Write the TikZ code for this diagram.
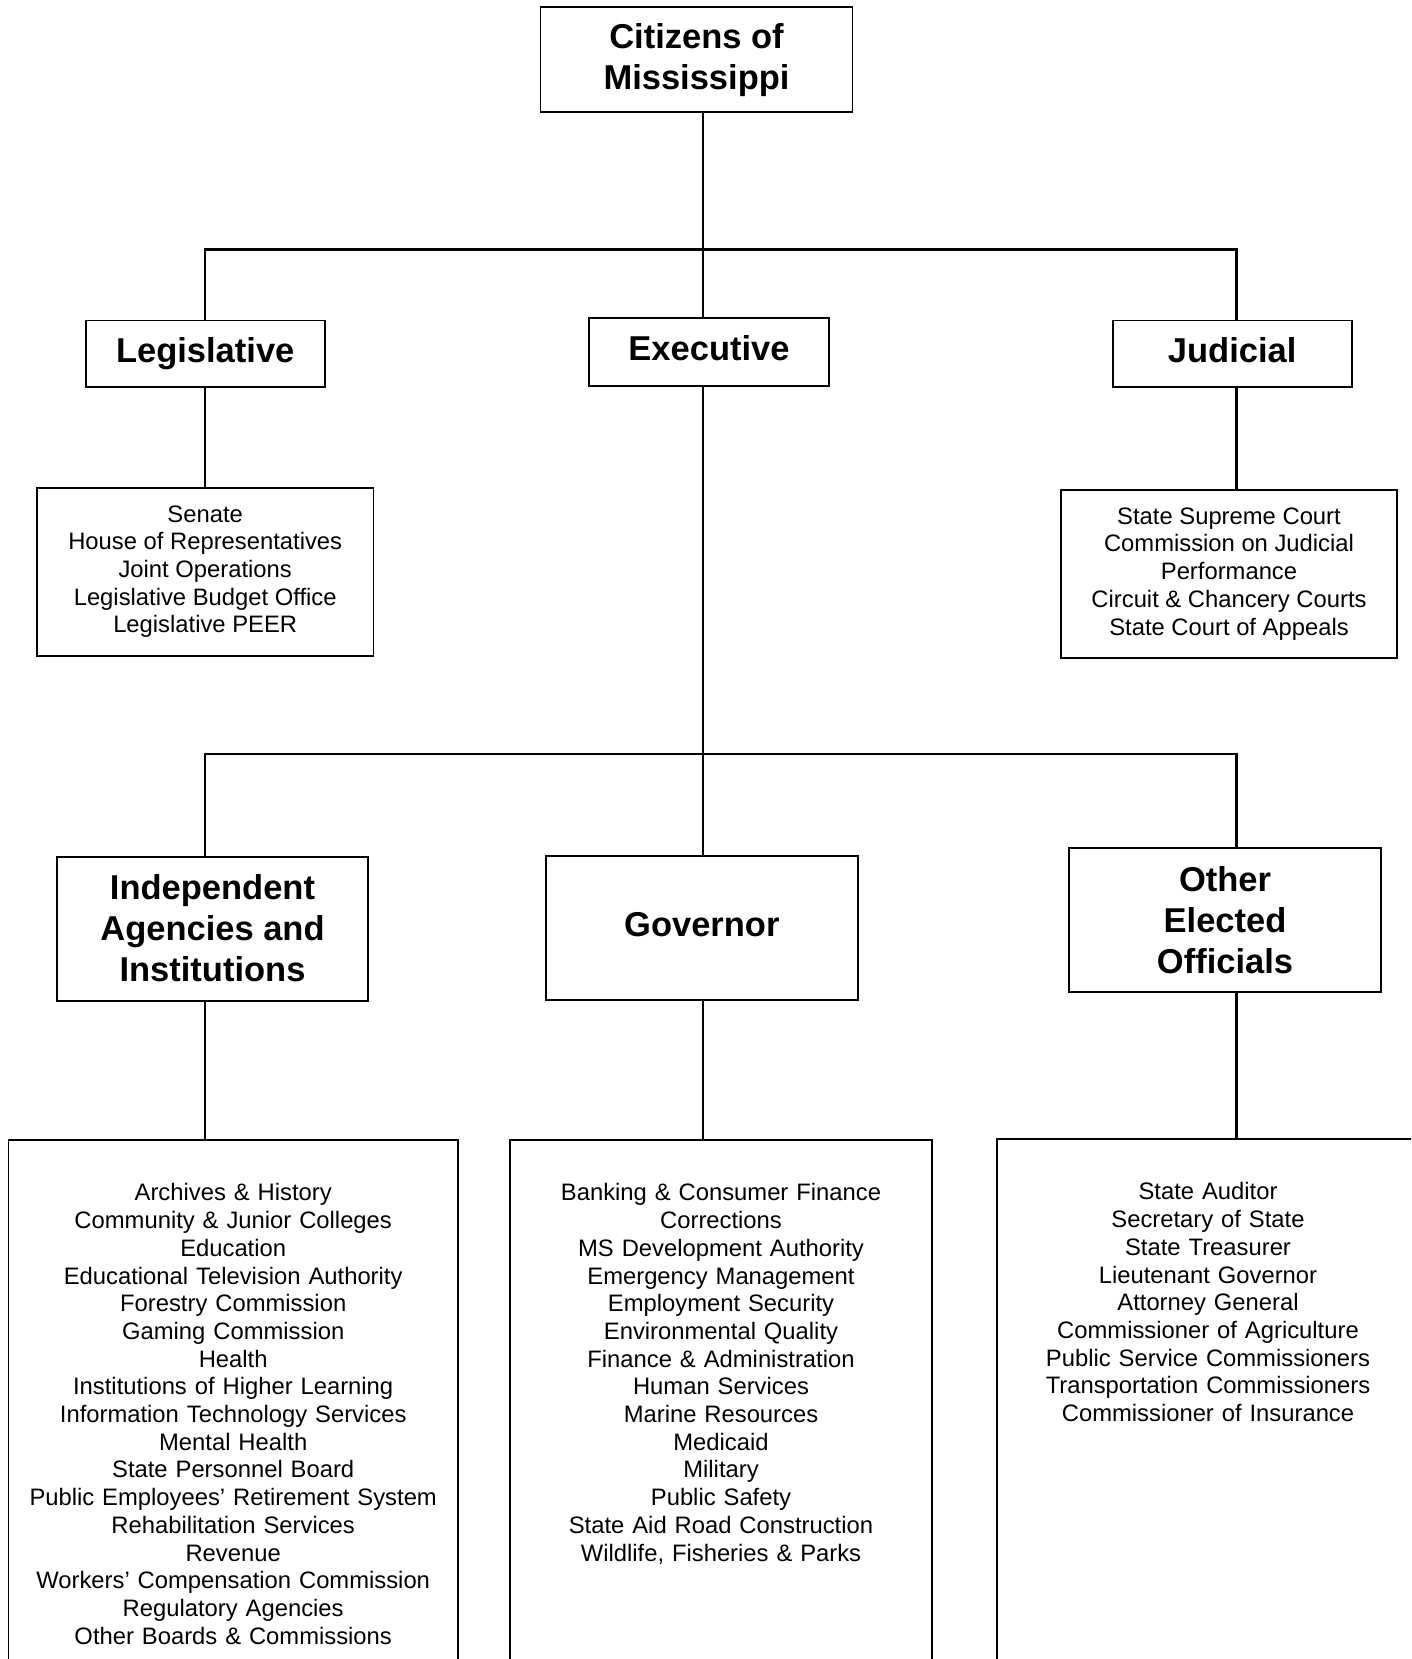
\documentclass[tikz,border=0pt]{standalone}
\usepackage{fontspec}
\setmainfont{Liberation Sans}
\usepackage{tikz}

\begin{document}
\begin{tikzpicture}[x=1pt, y=-1pt, line width=2.4pt,
	branch node/.style={rectangle,draw,line width=1.8pt,inner sep=0pt,align=center,
		font=\fontsize{34.5}{41}\selectfont\bfseries},
	single node/.style={branch node,text height=25pt,text depth=7.5pt},
	list node/.style={rectangle,draw,line width=1.8pt,inner sep=0pt,align=center,
		font=\fontsize{23.8}{27.7}\selectfont},
	open node/.style={list node,anchor=north,inner xsep=0pt,inner ysep=43pt,
		text height=18pt,text depth=700pt}]
	
	\path[use as bounding box,clip] (0,0) rectangle (1411,1659);
	
	\node[branch node,minimum width=312pt,minimum height=104.6pt] (cit) at (696.5,59.7) {Citizens of\\Mississippi};
	
	\node[single node,minimum width=239pt,minimum height=66.5pt] (leg) at (205.2,353.7) {Legislative};
	\node[single node,minimum width=240pt,minimum height=68pt] (exe) at (709,352) {Executive};
	\node[single node,minimum width=239pt,minimum height=66.5pt] (jud) at (1232.2,353.7) {Judicial};
	
	\node[list node,minimum width=336.4pt,minimum height=168pt] (legsub) at (205.2,571.7)
	{Senate\\House of Representatives\\Joint Operations\\Legislative Budget Office\\Legislative PEER};
	\node[list node,minimum width=336pt,minimum height=168pt] (judsub) at (1229,573.8)
	{State Supreme Court\\Commission on Judicial\\Performance\\Circuit \& Chancery Courts\\State Court of Appeals};
	
	\node[branch node,minimum width=311pt,minimum height=144pt] (ind) at (212.5,928.6) {Independent\\Agencies and\\Institutions};
	\node[single node,minimum width=312pt,minimum height=144pt] (gov) at (701.8,927.6) {Governor};
	\node[branch node,minimum width=312pt,minimum height=144pt] (oth) at (1225,920) {Other\\Elected\\Officials};
	
	\node[open node,text width=449.5pt] (indsub) at (233.2,1139)
	{Archives \& History\\Community \& Junior Colleges\\Education\\Educational Television Authority\\
	Forestry Commission\\Gaming Commission\\Health\\Institutions of Higher Learning\\
	Information Technology Services\\Mental Health\\State Personnel Board\\
	Public Employees’ Retirement System\\Rehabilitation Services\\Revenue\\
	Workers’ Compensation Commission\\Regulatory Agencies\\Other Boards \& Commissions};
	\node[open node,text width=422pt] (govsub) at (721,1139)
	{Banking \& Consumer Finance\\Corrections\\MS Development Authority\\Emergency Management\\
	Employment Security\\Environmental Quality\\Finance \& Administration\\Human Services\\
	Marine Resources\\Medicaid\\Military\\Public Safety\\State Aid Road Construction\\
	Wildlife, Fisheries \& Parks};
	\node[open node,text width=422pt] (othsub) at (1208,1138)
	{State Auditor\\Secretary of State\\State Treasurer\\Lieutenant Governor\\Attorney General\\
	Commissioner of Agriculture\\Public Service Commissioners\\Transportation Commissioners\\
	Commissioner of Insurance};
	
	% bus lines
	\coordinate (top) at (703,249.6);
	\coordinate (topl) at (205,249.6);
	\coordinate (topr) at (1236.5,249.6);
	\coordinate (mid) at (703,754);
	\coordinate (midl) at (205,754);
	\coordinate (midr) at (1236.5,754);
	
	\draw (cit.south -| top) -- (exe.north -| top);
	\draw (leg.north -| topl) |- (topr) -- (jud.north -| topr);
	\draw (leg.south -| topl) -- (legsub.north -| topl);
	\draw (jud.south -| topr) -- (judsub.north -| topr);
	
	\draw (exe.south -| mid) -- (gov.north -| mid);
	\draw (ind.north -| midl) |- (midr) -- (oth.north -| midr);
	\draw (ind.south -| midl) -- (indsub.north -| midl);
	\draw (gov.south -| mid) -- (govsub.north -| mid);
	\draw (oth.south -| midr) -- (othsub.north -| midr);
\end{tikzpicture}
\end{document}
